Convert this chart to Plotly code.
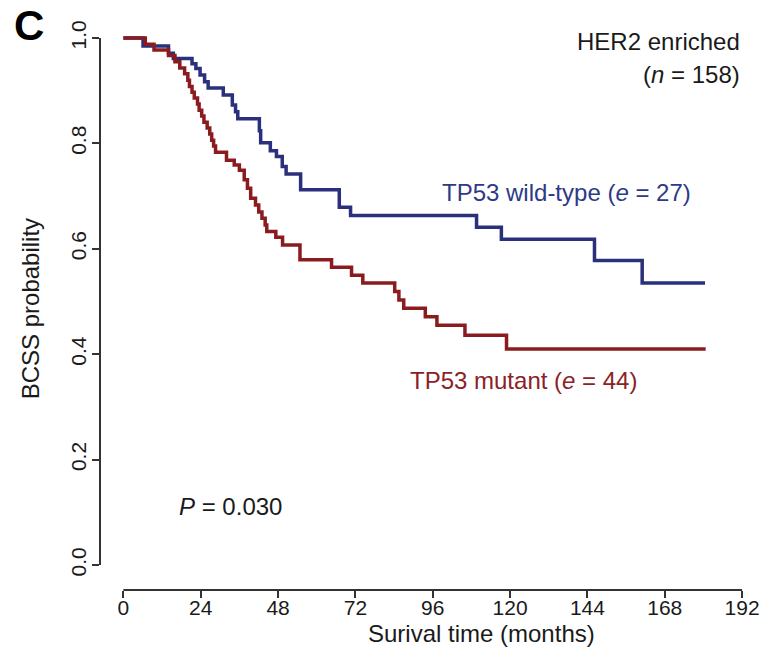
import plotly.graph_objects as go

# ---- data ----
months_wt = [0, 6.1, 14, 15.5, 21.3, 22.5, 23.8, 25.2, 26.3, 31, 33.8, 34.8, 35.5,
             42.2, 42.6, 45.6, 47.5, 49.3, 50.5, 55, 67, 70.5, 109.6, 117.3, 146.2,
             161, 180.5]
surv_wt = [1.0, 0.985, 0.971, 0.961, 0.951, 0.942, 0.930, 0.917, 0.905, 0.892, 0.873,
           0.860, 0.847, 0.824, 0.801, 0.786, 0.775, 0.756, 0.742, 0.712, 0.679, 0.663,
           0.641, 0.618, 0.578, 0.535, 0.535]

months_mut = [0, 6.8, 9.5, 14, 16, 17.5, 19, 20, 20.5, 21.3, 22, 23, 23.5, 24.3, 25,
              26, 26.8, 27.4, 28, 28.6, 32, 34.4, 36, 37.5, 38.5, 39.5, 41, 42, 43,
              44, 44.5, 47.3, 49.4, 54.8, 64.6, 70.8, 74.3, 84.2, 85.5, 87, 93.7,
              97.3, 106, 118.9, 180.7]
surv_mut = [1.0, 0.988, 0.977, 0.967, 0.955, 0.943, 0.932, 0.920, 0.908, 0.897, 0.886,
            0.875, 0.863, 0.852, 0.840, 0.829, 0.818, 0.806, 0.795, 0.783, 0.768, 0.759,
            0.749, 0.731, 0.715, 0.696, 0.683, 0.670, 0.658, 0.645, 0.633, 0.622, 0.607,
            0.579, 0.565, 0.550, 0.535, 0.519, 0.503, 0.487, 0.471, 0.455, 0.436, 0.410,
            0.410]

x_ticks = [0, 24, 48, 72, 96, 120, 144, 168, 192]
y_ticks = [0.0, 0.2, 0.4, 0.6, 0.8, 1.0]
y_ticktext = ["0.0", "0.2", "0.4", "0.6", "0.8", "1.0"]

BLUE = "#2b307c"
RED = "#8a1c20"
INK = "#1a1a1a"
AXIS = "#333333"
FONT = "Liberation Sans"

# ---- geometry (pixels) ----
W, H = 771, 648
L, R, T, B = 100, 11, 20, 58          # paper area: x 100..760, y 20..590
pw, ph = W - L - R, H - T - B
x0_px, x192_px = 123.5, 745.0          # pixel of 0 and 192 months
y1_px, y0_px = 38.0, 565.0             # pixel of 1.0 and 0.0
ppm = (x192_px - x0_px) / 192
ppu = y0_px - y1_px
x_range = [(L - x0_px) / ppm, (L + pw - x0_px) / ppm]
y_range = [(y0_px - (T + ph)) / ppu, (y0_px - T) / ppu]


def px(xp):
    return (xp - L) / pw


def py(yp):
    return (T + ph - yp) / ph


fig = go.Figure()
fig.add_trace(go.Scatter(x=months_wt, y=surv_wt, mode="lines", line_shape="hv",
                         line=dict(color=BLUE, width=3.5), showlegend=False))
fig.add_trace(go.Scatter(x=months_mut, y=surv_mut, mode="lines", line_shape="hv",
                         line=dict(color=RED, width=3.5), showlegend=False))

fig.update_layout(
    width=W, height=H,
    margin=dict(l=L, r=R, t=T, b=B),
    paper_bgcolor="white", plot_bgcolor="white",
    font=dict(family=FONT, color=INK, size=21),
    xaxis=dict(range=x_range, tickvals=x_ticks, ticktext=[str(v) for v in x_ticks],
               showgrid=False, zeroline=False, showline=False,
               ticks="outside", ticklen=7, tickwidth=1.5, tickcolor=AXIS,
               ticklabelstandoff=-8,
               tickfont=dict(size=21, color=INK, family=FONT)),
    yaxis=dict(range=y_range, tickvals=y_ticks, ticktext=y_ticktext,
               showgrid=False, zeroline=False, showline=False,
               ticks="outside", ticklen=7, tickwidth=1.5, tickcolor=AXIS,
               tickangle=-90, ticklabelstandoff=-2,
               tickfont=dict(size=21, color=INK, family=FONT)),
)

# detached R-style axis lines spanning only the tick range
fig.add_shape(type="line", xref="x", yref="paper", x0=x_ticks[0], x1=x_ticks[-1],
              y0=0, y1=0, line=dict(color=AXIS, width=2))
fig.add_shape(type="line", xref="paper", yref="y", x0=0, x1=0,
              y0=y_ticks[0], y1=y_ticks[-1], line=dict(color=AXIS, width=2))


def ann(text, xp, yp, size=24, color=INK, xanchor="center", angle=0, bold=False):
    fig.add_annotation(text=f"<b>{text}</b>" if bold else text,
                       x=px(xp), y=py(yp), xref="paper", yref="paper",
                       xanchor=xanchor, yanchor="middle", showarrow=False,
                       textangle=angle,
                       font=dict(size=size, color=color, family=FONT))


ann("C", 29, 25, size=42, color="#000000", bold=True)
ann("BCSS probability", 30, 309, angle=-90)
ann("Surival time (months)", 483, 633)
ann("HER2 enriched", 745, 41, xanchor="right")
ann("(<i>n</i> = 158)", 745, 75, xanchor="right")
ann("TP53 wild-type (<i>e</i> = 27)", 569, 192, color="#2e3a86")
ann("TP53 mutant (<i>e</i> = 44)", 525, 380, color="#8a2226")
ann("<i>P</i> = 0.030", 231, 506)

fig.write_html("out.html")
